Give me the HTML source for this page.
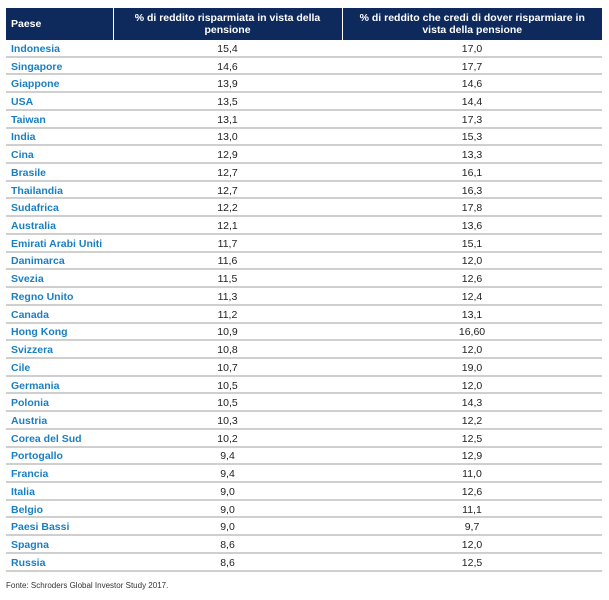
<!DOCTYPE html>
<html><head><style>
body{margin:0;background:#fff;width:609px;height:600px;overflow:hidden;font-family:"Liberation Sans",sans-serif}
table{position:absolute;left:6px;top:8px;width:596px;border-collapse:collapse;table-layout:fixed}
th{background:#0e2a5c;color:#fff;font-size:10.5px;font-weight:bold;height:32px;padding:0 4px;line-height:12px;border-left:1px solid #fff}
th:first-child{border-left:none;text-align:left;padding-left:5px}
td{height:13.72px;padding:2px 0 0 0;border-bottom:2px solid #cfcfcf;font-size:10.5px;text-align:center;color:#222;line-height:12px}
td:first-child{text-align:left;padding-left:5px;color:#1a7fc2;font-weight:bold}
.f{position:absolute;left:6px;top:581px;font-size:8px;color:#333}
</style></head><body>
<table>
<colgroup><col style="width:107px"><col style="width:229px"><col></colgroup>
<tr><th>Paese</th><th>% di reddito risparmiata in vista della<br>pensione</th><th>% di reddito che credi di dover risparmiare in<br>vista della pensione</th></tr>
<tr><td>Indonesia</td><td>15,4</td><td>17,0</td></tr>
<tr><td>Singapore</td><td>14,6</td><td>17,7</td></tr>
<tr><td>Giappone</td><td>13,9</td><td>14,6</td></tr>
<tr><td>USA</td><td>13,5</td><td>14,4</td></tr>
<tr><td>Taiwan</td><td>13,1</td><td>17,3</td></tr>
<tr><td>India</td><td>13,0</td><td>15,3</td></tr>
<tr><td>Cina</td><td>12,9</td><td>13,3</td></tr>
<tr><td>Brasile</td><td>12,7</td><td>16,1</td></tr>
<tr><td>Thailandia</td><td>12,7</td><td>16,3</td></tr>
<tr><td>Sudafrica</td><td>12,2</td><td>17,8</td></tr>
<tr><td>Australia</td><td>12,1</td><td>13,6</td></tr>
<tr><td>Emirati Arabi Uniti</td><td>11,7</td><td>15,1</td></tr>
<tr><td>Danimarca</td><td>11,6</td><td>12,0</td></tr>
<tr><td>Svezia</td><td>11,5</td><td>12,6</td></tr>
<tr><td>Regno Unito</td><td>11,3</td><td>12,4</td></tr>
<tr><td>Canada</td><td>11,2</td><td>13,1</td></tr>
<tr><td>Hong Kong</td><td>10,9</td><td>16,60</td></tr>
<tr><td>Svizzera</td><td>10,8</td><td>12,0</td></tr>
<tr><td>Cile</td><td>10,7</td><td>19,0</td></tr>
<tr><td>Germania</td><td>10,5</td><td>12,0</td></tr>
<tr><td>Polonia</td><td>10,5</td><td>14,3</td></tr>
<tr><td>Austria</td><td>10,3</td><td>12,2</td></tr>
<tr><td>Corea del Sud</td><td>10,2</td><td>12,5</td></tr>
<tr><td>Portogallo</td><td>9,4</td><td>12,9</td></tr>
<tr><td>Francia</td><td>9,4</td><td>11,0</td></tr>
<tr><td>Italia</td><td>9,0</td><td>12,6</td></tr>
<tr><td>Belgio</td><td>9,0</td><td>11,1</td></tr>
<tr><td>Paesi Bassi</td><td>9,0</td><td>9,7</td></tr>
<tr><td>Spagna</td><td>8,6</td><td>12,0</td></tr>
<tr><td>Russia</td><td>8,6</td><td>12,5</td></tr>
</table>
<div class="f">Fonte: Schroders Global Investor Study 2017.</div>
</body></html>
